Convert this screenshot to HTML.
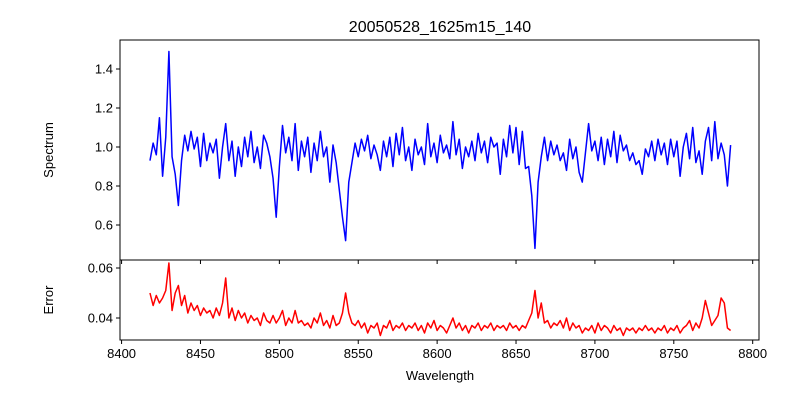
<!DOCTYPE html>
<html><head><meta charset="utf-8"><style>
html,body{margin:0;padding:0;background:#fff;}
svg{display:block;font-family:"Liberation Sans","DejaVu Sans",sans-serif;}
</style></head><body>
<svg id="chart" width="800" height="400" viewBox="0 0 800 400" xmlns="http://www.w3.org/2000/svg">
<rect width="800" height="400" fill="#fff"/>
<text x="440" y="32" text-anchor="middle" font-size="16">20050528_1625m15_140</text>
<text transform="translate(53,150) rotate(-90)" text-anchor="middle" font-size="13">Spectrum</text>
<text transform="translate(53,300) rotate(-90)" text-anchor="middle" font-size="13">Error</text>
<text x="440" y="380" text-anchor="middle" font-size="13">Wavelength</text>
<g id="g"></g>
</svg>
<script>
const waveStart = 8418;
const waveStep = 2;
const flux = [0.93,1.02,0.96,1.15,0.85,1.05,1.49,0.95,0.86,0.70,0.93,1.06,0.98,1.08,0.99,1.05,0.90,1.07,0.93,1.02,0.97,1.04,0.84,1.00,1.12,0.93,1.03,0.85,1.00,0.90,1.05,0.95,1.08,0.92,1.00,0.89,1.06,1.02,0.95,0.84,0.64,0.90,1.11,0.97,1.05,0.93,1.12,0.88,1.03,0.95,1.05,0.87,1.02,0.93,1.08,0.95,1.00,0.82,1.01,0.92,0.78,0.64,0.52,0.82,0.92,1.02,0.95,1.04,0.98,1.06,0.94,1.01,0.96,0.88,1.03,0.95,1.05,0.90,1.07,0.96,1.10,0.93,1.00,0.88,1.04,0.96,1.00,0.91,1.12,0.95,1.02,0.92,1.06,0.97,1.01,0.94,1.13,0.96,1.04,0.89,1.00,0.95,1.03,0.93,1.07,0.97,1.03,0.92,1.05,1.00,1.02,0.86,1.04,0.95,1.11,0.97,1.10,0.91,1.08,0.89,0.90,0.75,0.48,0.82,0.95,1.05,0.93,1.03,0.96,1.01,0.93,0.97,0.88,1.04,0.94,1.00,0.87,0.82,0.97,1.12,0.98,1.03,0.93,1.05,0.91,1.04,0.95,1.08,0.92,1.06,0.98,1.01,0.93,0.97,0.91,0.93,0.86,0.99,0.95,1.03,0.93,1.04,0.96,1.02,0.91,1.04,0.95,1.03,0.85,1.00,1.07,0.94,1.10,0.92,0.98,0.86,1.03,1.10,0.93,1.13,0.94,1.02,0.96,0.80,1.01];
const err = [.050,.045,.049,.046,.048,.051,.062,.043,.050,.053,.045,.049,.042,.046,.043,.045,.041,.044,.042,.043,.040,.044,.041,.046,.056,.040,.044,.039,.043,.040,.042,.038,.041,.039,.040,.037,.042,.039,.038,.041,.038,.040,.043,.037,.040,.038,.043,.038,.039,.037,.038,.036,.040,.038,.042,.037,.039,.036,.041,.037,.038,.042,.050,.042,.038,.037,.039,.036,.038,.034,.037,.036,.038,.033,.037,.036,.039,.035,.037,.036,.038,.035,.037,.036,.038,.035,.037,.034,.038,.036,.039,.035,.037,.036,.034,.037,.040,.036,.038,.035,.037,.034,.037,.036,.038,.035,.037,.036,.038,.035,.037,.036,.037,.035,.038,.036,.037,.035,.037,.036,.039,.042,.051,.040,.046,.038,.039,.036,.038,.037,.039,.036,.040,.035,.038,.036,.037,.034,.036,.035,.037,.034,.038,.035,.037,.036,.034,.037,.035,.036,.033,.036,.035,.036,.034,.036,.035,.037,.035,.036,.034,.036,.035,.037,.034,.036,.035,.037,.034,.036,.037,.039,.035,.038,.036,.040,.047,.042,.037,.039,.041,.048,.046,.036,.035];
const xTicks = [8400,8450,8500,8550,8600,8650,8700,8750,8800];
const fluxTicks = [0.6,0.8,1.0,1.2,1.4];
const errTicks = [0.04,0.06];

const NS='http://www.w3.org/2000/svg';
const g=document.getElementById('g');
const L=120,R=759,T1=40,B1=260,T2=260,B2=340;
const xMin=8399,xMax=8804;
const X=w=>L+(w-xMin)/(xMax-xMin)*(R-L);
const Y1=v=>147-(v-1.0)/0.2*39;
const Y2=v=>318-(v-0.04)/0.02*50;
function mk(tag,attrs){const e=document.createElementNS(NS,tag);for(const k in attrs)e.setAttribute(k,attrs[k]);g.appendChild(e);return e;}

let p1=flux.map((v,i)=>X(waveStart+i*waveStep).toFixed(2)+','+Y1(v).toFixed(2)).join(' ');
const l1=mk('polyline',{points:p1,fill:'none',stroke:'#0000ff','stroke-width':1.5,'stroke-linejoin':'round'});


let p2=err.map((v,i)=>X(waveStart+i*waveStep).toFixed(2)+','+Y2(v).toFixed(2)).join(' ');
const l2=mk('polyline',{points:p2,fill:'none',stroke:'#ff0000','stroke-width':1.5,'stroke-linejoin':'round'});



const f1=mk('rect',{x:L,y:T1,width:R-L,height:B1-T1,fill:'none',stroke:'#000','stroke-width':1});


const f2=mk('rect',{x:L,y:T2,width:R-L,height:B2-T2,fill:'none',stroke:'#000','stroke-width':1});



xTicks.forEach(t=>{const x=X(t);
 mk('line',{x1:x,x2:x,y1:B2,y2:B2+4,stroke:'#000'});
 const tx=mk('text',{x:x,y:B2+18,'text-anchor':'middle','font-size':13});tx.textContent=t;
 
 
 mk('line',{x1:x,x2:x,y1:B1,y2:B1+4,stroke:'#000'});
});
fluxTicks.forEach(t=>{const y=Y1(t);
 mk('line',{x1:L-4,x2:L,y1:y,y2:y,stroke:'#000'});
 const tx=mk('text',{x:L-7,y:y+4.5,'text-anchor':'end','font-size':13});tx.textContent=t.toFixed(1);
 
 
});
errTicks.forEach(t=>{const y=Y2(t);
 mk('line',{x1:L-4,x2:L,y1:y,y2:y,stroke:'#000'});
 const tx=mk('text',{x:L-7,y:y+4.5,'text-anchor':'end','font-size':13});tx.textContent=t.toFixed(2);
 
 
});
</script>
</body></html>
